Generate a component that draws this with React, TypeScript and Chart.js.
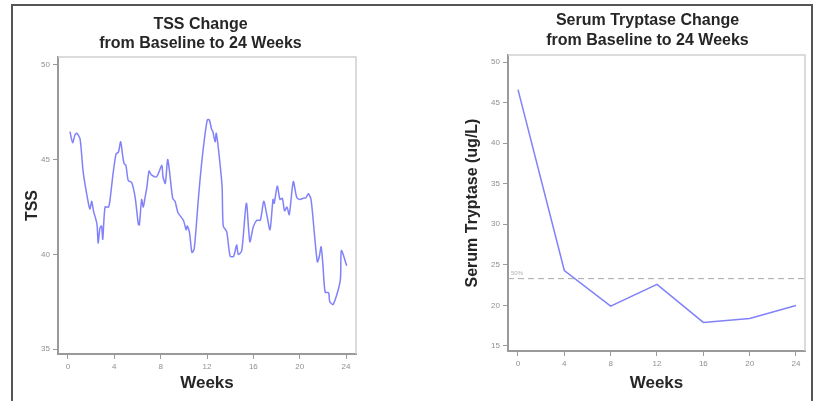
import React, { useEffect, useRef } from "react";
import { Chart, registerables } from "chart.js";

Chart.register(...registerables);

// ---------- data ----------
const weekTicks = [0, 4, 8, 12, 16, 20, 24];
const tssTicks = [35, 40, 45, 50];
const tryptaseTicks = [15, 20, 25, 30, 35, 40, 45, 50];

const tssWeeks = [
  0.17, 0.4, 0.6, 0.75, 1.04, 1.32, 1.76, 1.9, 2.05, 2.2, 2.5, 2.6, 2.76, 2.9, 3.0,
  3.2, 3.5, 3.63, 3.9, 4.15, 4.35, 4.55, 4.7, 4.84, 5.0, 5.2, 5.5, 5.8, 6.07, 6.16,
  6.36, 6.5, 6.65, 6.8, 7.0, 7.2, 7.65, 8.1, 8.2, 8.4, 8.6, 8.75, 9.04, 9.24, 9.5,
  9.96, 10.2, 10.3, 10.5, 10.7, 10.9, 11.25, 11.5, 11.8, 12.03, 12.2, 12.4, 12.5,
  12.7, 12.8, 13.0, 13.3, 13.4, 13.7, 14.0, 14.3, 14.56, 14.7, 15.0, 15.4, 15.7,
  16.0, 16.3, 16.6, 16.9, 17.16, 17.44, 17.7, 17.8, 18.07, 18.3, 18.5, 18.7, 18.9,
  19.1, 19.45, 19.75, 20.0, 20.3, 20.55, 20.75, 20.98, 21.3, 21.53, 21.7, 21.85,
  22.0, 22.2, 22.5, 22.6, 22.9, 23.5, 23.6, 24.06,
];
const tssValues = [
  46.48, 45.9, 46.3, 46.4, 46.1, 44.3, 42.7, 42.4, 42.8, 42.3, 41.6, 40.6, 41.4, 41.5, 40.8,
  42.5, 42.5, 42.9, 44.3, 45.3, 45.4, 45.95, 45.3, 44.8, 44.7, 43.9, 43.8, 43.0, 41.6, 41.55,
  42.9, 42.5, 43.0, 43.5, 44.4, 44.2, 44.1, 44.7, 44.1, 43.75, 45.0, 44.45, 42.96, 42.8, 42.2,
  41.8, 41.3, 41.5, 41.1, 40.1, 40.3, 42.9, 44.6, 46.2, 47.1, 47.1, 46.6, 46.5,
  45.95, 46.4, 45.5, 43.6, 41.5, 41.2, 39.9, 39.9, 40.5, 40.0, 40.2, 42.7, 40.67,
  41.46, 41.8, 41.8, 42.8, 42.1, 41.3, 42.9, 42.7, 43.6, 42.9, 42.96, 42.3, 42.5,
  42.1, 43.84, 43.0, 42.9, 42.96, 43.0, 43.2, 42.9, 40.9, 39.6, 39.9, 40.4,
  39.5, 38.0, 37.97, 37.5, 37.36, 38.6, 40.2, 39.4,
];

const tryptaseWeeks = [0, 4, 8, 12, 16, 20, 24];
const tryptaseValues = [46.6, 24.3, 19.9, 22.6, 17.9, 18.4, 20.0];
const tryptaseHalfLevel = 23.3;
const halfLabel = "50%";

// ---------- styling ----------
const FONT = "'Liberation Sans', Arial, Helvetica, sans-serif";
const LINE_COLOR = "rgba(122,122,250,0.95)";
const AXIS_COLOR = "#9a9a9a";
const TICK_COLOR = "#8f8f8f";
const TEXT_COLOR = "#262626";

const frameBoxPlugin = {
  id: "frameBox",
  beforeDatasetsDraw(chart: any) {
    const { ctx, chartArea } = chart;
    ctx.save();
    ctx.strokeStyle = "#cfcfcf";
    ctx.lineWidth = 1.5;
    ctx.beginPath();
    ctx.moveTo(chartArea.left, chartArea.top);
    ctx.lineTo(chartArea.right, chartArea.top);
    ctx.lineTo(chartArea.right, chartArea.bottom);
    ctx.stroke();
    ctx.restore();
  },
};

const refLinePlugin = {
  id: "refLine",
  beforeDatasetsDraw(chart: any, _args: any, opts: any) {
    if (opts == null || opts.value == null) return;
    const { ctx, chartArea, scales } = chart;
    const y = scales.y.getPixelForValue(opts.value);
    ctx.save();
    ctx.strokeStyle = "#a8a8a8";
    ctx.lineWidth = 1;
    ctx.setLineDash([6, 4]);
    ctx.beginPath();
    ctx.moveTo(chartArea.left, y);
    ctx.lineTo(chartArea.right, y);
    ctx.stroke();
    ctx.setLineDash([]);
    ctx.fillStyle = "#b0b0b0";
    ctx.font = `6px ${FONT}`;
    ctx.textAlign = "left";
    ctx.textBaseline = "bottom";
    ctx.fillText(opts.label, chartArea.left + 3, y - 2);
    ctx.restore();
  },
};

interface PanelCfg {
  title: string[];
  yTitle: string;
  xs: number[];
  ys: number[];
  xMin: number;
  xMax: number;
  yMin: number;
  yMax: number;
  yTicks: number[];
  yWidth: number;
  rightWidth: number;
  xHeight: number;
  titlePad: { top: number; bottom: number };
  yTitlePad: number;
  tension: number;
  refValue?: number;
}

function makeConfig(c: PanelCfg): any {
  return {
    type: "line",
    data: {
      datasets: [
        {
          data: c.xs.map((x, i) => ({ x, y: c.ys[i] })),
          borderColor: LINE_COLOR,
          borderWidth: 1.5,
          pointRadius: 0,
          tension: c.tension,
          fill: false,
        },
      ],
    },
    options: {
      animation: false,
      responsive: false,
      events: [],
      layout: { padding: 0 },
      plugins: {
        legend: { display: false },
        tooltip: { enabled: false },
        title: {
          display: true,
          text: c.title,
          color: TEXT_COLOR,
          font: { family: FONT, size: 16, weight: "bold", lineHeight: 1.22 },
          padding: c.titlePad,
        },
        refLine: c.refValue != null ? { value: c.refValue, label: halfLabel } : {},
      },
      scales: {
        x: {
          type: "linear",
          min: c.xMin,
          max: c.xMax,
          afterBuildTicks: (s: any) => {
            s.ticks = weekTicks.map((v) => ({ value: v }));
          },
          afterFit: (s: any) => {
            s.height = c.xHeight;
          },
          grid: { drawOnChartArea: false, drawTicks: true, tickLength: 5, color: AXIS_COLOR, lineWidth: 1 },
          border: { display: true, color: AXIS_COLOR, width: 2 },
          ticks: { font: { family: FONT, size: 8 }, color: TICK_COLOR, padding: 3, maxRotation: 0, autoSkip: false },
          title: {
            display: true,
            text: "Weeks",
            color: TEXT_COLOR,
            font: { family: FONT, size: 17, weight: "bold", lineHeight: 1.2 },
            padding: { top: 0, bottom: 7.8 },
          },
        },
        y: {
          type: "linear",
          position: "left",
          min: c.yMin,
          max: c.yMax,
          afterBuildTicks: (s: any) => {
            s.ticks = c.yTicks.map((v) => ({ value: v }));
          },
          afterFit: (s: any) => {
            s.width = c.yWidth;
          },
          grid: { drawOnChartArea: false, drawTicks: true, tickLength: 5, color: AXIS_COLOR, lineWidth: 1 },
          border: { display: true, color: AXIS_COLOR, width: 2 },
          ticks: { font: { family: FONT, size: 8 }, color: TICK_COLOR, padding: 3, autoSkip: false },
          title: {
            display: true,
            text: c.yTitle,
            color: TEXT_COLOR,
            font: { family: FONT, size: 16, weight: "bold", lineHeight: 1.2 },
            padding: { top: c.yTitlePad, bottom: 0 },
          },
        },
        yRight: {
          axis: "y",
          type: "linear",
          position: "right",
          display: true,
          afterFit: (s: any) => {
            s.width = c.rightWidth;
          },
          grid: { display: false },
          border: { display: false },
          ticks: { display: false },
        },
      },
    },
    plugins: [frameBoxPlugin, refLinePlugin],
  };
}

function Panel(props: { cfg: PanelCfg; left: number; width: number }) {
  const ref = useRef<HTMLCanvasElement | null>(null);
  useEffect(() => {
    if (!ref.current) return;
    const chart = new Chart(ref.current, makeConfig(props.cfg));
    return () => chart.destroy();
  }, []);
  return (
    <canvas
      ref={ref}
      width={props.width}
      height={395}
      style={{ position: "absolute", left: props.left, top: 6, width: props.width, height: 395 }}
    />
  );
}

const tssCfg: PanelCfg = {
  title: ["TSS Change", "from Baseline to 24 Weeks"],
  yTitle: "TSS",
  xs: tssWeeks,
  ys: tssValues,
  xMin: -0.863,
  xMax: 24.863,
  yMin: 34.74,
  yMax: 50.42,
  yTicks: tssTicks,
  yWidth: 44,
  rightWidth: 31,
  xHeight: 47,
  titlePad: { top: 8.7, bottom: 3.3 },
  yTitlePad: 9.4,
  tension: 0.25,
};

const tryptaseCfg: PanelCfg = {
  title: ["Serum Tryptase Change", "from Baseline to 24 Weeks"],
  yTitle: "Serum Tryptase (ug/L)",
  xs: tryptaseWeeks,
  ys: tryptaseValues,
  xMin: -0.863,
  xMax: 24.777,
  yMin: 14.38,
  yMax: 50.86,
  yTicks: tryptaseTicks,
  yWidth: 48,
  rightWidth: 30,
  xHeight: 50,
  titlePad: { top: 5.2, bottom: 4.8 },
  yTitlePad: 3.4,
  tension: 0,
  refValue: tryptaseHalfLevel,
};

export default function App() {
  return (
    <div
      style={{
        position: "fixed",
        left: 0,
        top: 0,
        width: 815,
        height: 401,
        overflow: "hidden",
        background: "#ffffff",
      }}
    >
      <Panel cfg={tssCfg} left={14} width={373} />
      <Panel cfg={tryptaseCfg} left={460} width={375} />
      <div
        style={{
          position: "absolute",
          left: 11,
          top: 4,
          width: 802,
          height: 430,
          border: "2px solid #555",
          boxSizing: "border-box",
          pointerEvents: "none",
          zIndex: 2,
        }}
      />
    </div>
  );
}
